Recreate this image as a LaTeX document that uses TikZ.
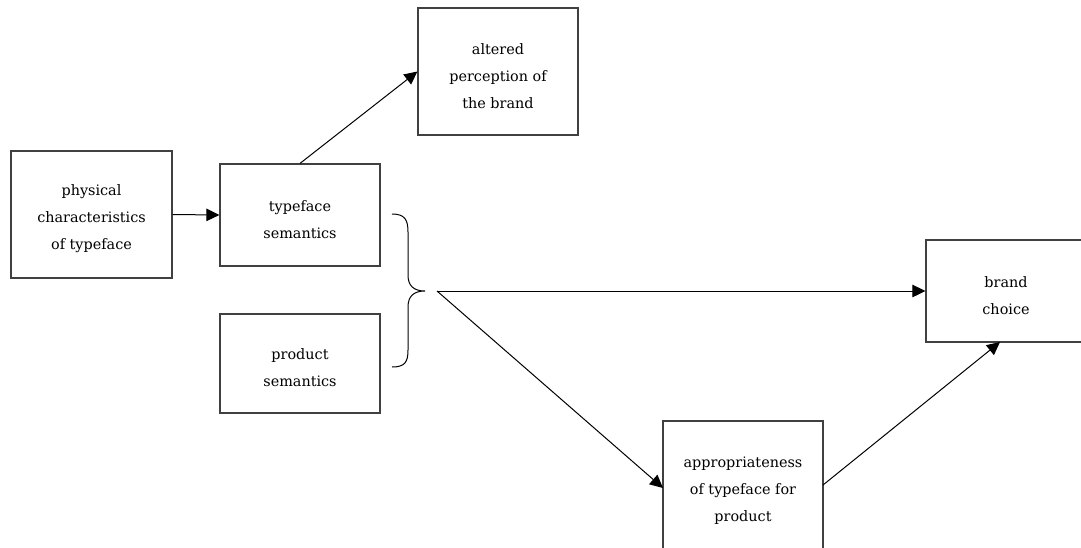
\documentclass[tikz,border=0pt]{standalone}
\usepackage{fontspec}
\setmainfont{DejaVu Serif}
\usetikzlibrary{arrows.meta}
\begin{document}
\begin{tikzpicture}[x=1pt,y=-1pt,
  box/.style={draw=black!75,line width=1.2pt},
  txt/.style={align=center,yshift=-4.5pt,font=\fontsize{14.4}{27}\selectfont},
  arr/.style={line width=1pt,-{Triangle[length=13pt,width=12.5pt]}}]
\useasboundingbox (0,0) rectangle (1081,547);
\node[box,minimum width=161pt,minimum height=127pt,label={[txt]center:{physical\\characteristics\\of typeface}}] (phys) at (91.5,214.5) {};
\node[box,minimum width=160pt,minimum height=102pt,label={[txt]center:{typeface\\semantics}}] (ts) at (300,215) {};
\node[box,minimum width=160pt,minimum height=127pt,label={[txt]center:{altered\\perception of\\the brand}}] (alt) at (498,71.5) {};
\node[box,minimum width=160pt,minimum height=99pt,label={[txt]center:{product\\semantics}}] (ps) at (300,363.5) {};
\node[box,minimum width=160pt,minimum height=102pt,label={[txt]center:{brand\\choice}}] (bc) at (1006,291) {};
\node[box,minimum width=160pt,minimum height=132pt,label={[txt,yshift=0.5pt]center:{appropriateness\\of typeface for\\product}}] (ap) at (743,487) {};
\coordinate (tip) at (437,291);
\coordinate (bctarget) at (1000,342);
\coordinate (apin) at (663,488);
\coordinate (apout) at (823,485);
\draw[arr] (phys.east) -- (ts.west);
\draw[arr] (ts.north) -- (alt.west);
\draw[arr] (tip) -- (bc.west);
\draw[arr] (tip) -- (apin);
\draw[arr] (apout) -- (bctarget);
\draw[line width=1pt] (392,214) .. controls (405,214) and (408,220) .. (408,232)
  -- (408,275) .. controls (408,286) and (414,291) .. (425,291)
  .. controls (414,291) and (408,296) .. (408,307)
  -- (408,350) .. controls (408,362) and (405,367) .. (392,367);
\end{tikzpicture}
\end{document}
